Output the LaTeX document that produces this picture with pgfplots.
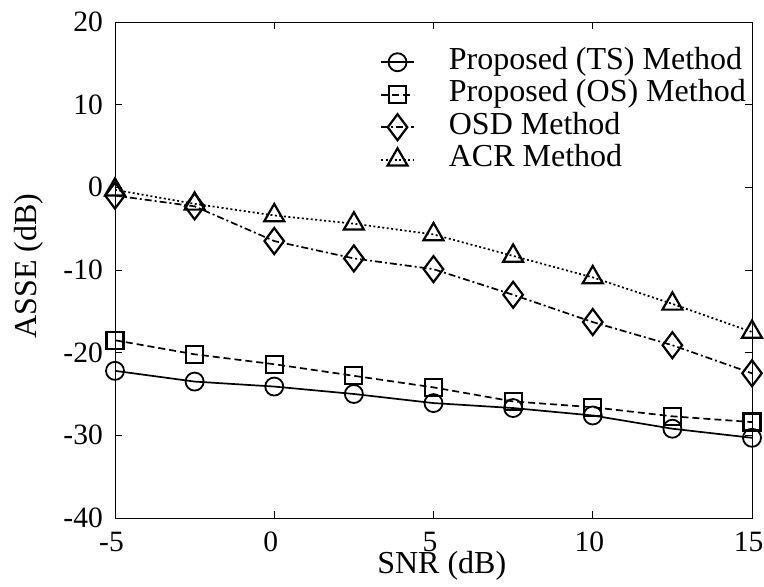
\documentclass[border=0pt]{standalone}
\usepackage{fontspec}
\setmainfont{Liberation Serif}
\usepackage{pgfplots}
\pgfplotsset{compat=1.18}
\begin{document}
\begin{tikzpicture}
\begin{axis}[
 name=a,
 scale only axis, width=637pt, height=496pt,
 xmin=-5, xmax=15, ymin=-40, ymax=20,
 xtick={-5,0,5,10,15}, ytick={-40,-30,-20,-10,0,10,20},
 tick align=inside, major tick length=7pt,
 tick style={black, line width=0.8pt},
 axis line style={line width=0.9pt},
 /pgf/number format/assume math mode=true,
 ticklabel style={font=\fontsize{29.5}{30}\selectfont, inner sep=0pt},
 yticklabel style={anchor=east, xshift=-12pt},
 xticklabel style={anchor=center, yshift=-24pt, xshift=-3.5pt},
 xlabel={SNR (dB)}, ylabel={ASSE (dB)},
 label style={font=\fontsize{32}{32}\selectfont, inner sep=0pt},
 xlabel style={at={(axis description cs:0.513,-0.111)}, anchor=base},
 ylabel style={at={(axis description cs:-0.1358,0.508)}, anchor=center, rotate=0},
 clip=false,
 legend style={draw=none, fill=none, at={(axis description cs:0.416,0.952)}, anchor=north west,
   font=\fontsize{32}{32}\selectfont, row sep=0pt, inner sep=0pt,
   nodes={inner sep=0pt, text height=23pt, text depth=9.5pt},
   /tikz/every odd column/.append style={column sep=34pt}},
 legend cell align=left,
 legend image code/.code={\draw[mark repeat=2,mark phase=2,#1] plot coordinates {(0pt,0pt)(16.5pt,0pt)(33pt,0pt)};},
 every axis plot/.append style={line width=1.7pt, black},
]
\addplot[solid, mark=o, mark size=9pt, mark options={solid, line width=1.8pt}] coordinates {
(-5,-22.2)(-2.5,-23.5)(0,-24.1)(2.5,-25.0)(5,-26.1)(7.5,-26.7)(10,-27.6)(12.5,-29.2)(15,-30.3)};
\addlegendentry{Proposed (TS) Method}
\addplot[dash pattern=on 7pt off 4pt, mark=square, mark size=8.5pt, mark options={solid, line width=2.2pt}] coordinates {
(-5,-18.5)(-2.5,-20.2)(0,-21.4)(2.5,-22.8)(5,-24.2)(7.5,-25.9)(10,-26.6)(12.5,-27.7)(15,-28.4)};
\addlegendentry{Proposed (OS) Method}
\addplot[dash pattern=on 7pt off 3pt on 2pt off 3pt, mark=diamond, mark size=13pt, mark options={solid, line width=2.2pt}] coordinates {
(-5,-1.0)(-2.5,-2.3)(0,-6.5)(2.5,-8.6)(5,-9.9)(7.5,-13.0)(10,-16.3)(12.5,-19.1)(15,-22.5)};
\addlegendentry{OSD Method}
\addplot[dash pattern=on 2pt off 2.5pt, mark=triangle, mark size=11.5pt, mark options={solid, line width=2.2pt}] coordinates {
(-5,-0.3)(-2.5,-2.0)(0,-3.4)(2.5,-4.4)(5,-5.7)(7.5,-8.3)(10,-10.9)(12.5,-14.1)(15,-17.5)};
\addlegendentry{ACR Method}
\end{axis}
\pgfresetboundingbox
\path[use as bounding box] ([xshift=-115pt, yshift=-69pt]a.south west) rectangle ([xshift=12pt, yshift=22pt]a.north east);
\end{tikzpicture}
\end{document}
